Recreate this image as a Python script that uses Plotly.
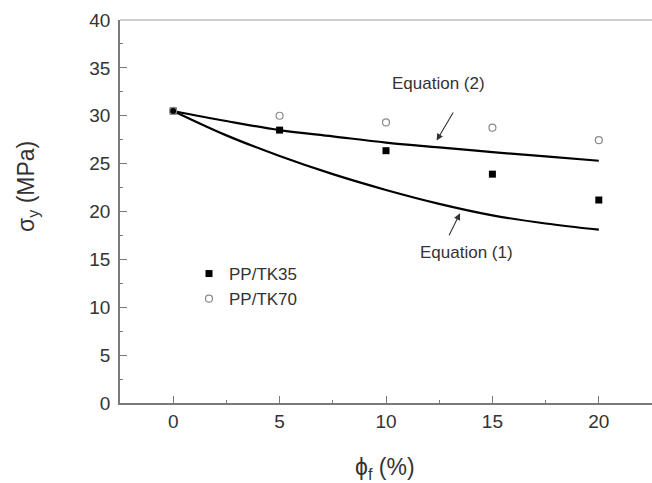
import plotly.graph_objects as go

# ---- data ----
phi = [0, 5, 10, 15, 20]
tk35 = [30.5, 28.5, 26.35, 23.9, 21.2]
tk70 = [30.5, 30.0, 29.3, 28.75, 27.45]

phi_curve = [0, 2.5, 5, 7.5, 10, 12.5, 15, 17.5, 20]
eq1 = [30.5, 27.95, 25.8, 23.9, 22.25, 20.8, 19.6, 18.75, 18.1]
eq2 = [30.5, 29.45, 28.5, 27.85, 27.2, 26.7, 26.2, 25.75, 25.3]

x_ticks = [0, 5, 10, 15, 20]
y_ticks = [0, 5, 10, 15, 20, 25, 30, 35, 40]

FONT = "Liberation Sans, Arial, sans-serif"
TXT = "#333333"
AX = "#7a7a7a"

fig = go.Figure()

fig.add_trace(go.Scatter(x=phi_curve, y=eq1, mode="lines", line=dict(color="black", width=2.2, shape="spline"),
                         showlegend=False, hoverinfo="skip"))
fig.add_trace(go.Scatter(x=phi_curve, y=eq2, mode="lines", line=dict(color="black", width=2.2, shape="spline"),
                         showlegend=False, hoverinfo="skip"))
fig.add_trace(go.Scatter(x=phi, y=tk35, mode="markers", name="PP/TK35",
                         marker=dict(symbol="square", size=7, color="black")))
fig.add_trace(go.Scatter(x=phi, y=tk70, mode="markers", name="PP/TK70",
                         marker=dict(symbol="circle-open", size=7, color="#8a8a8a", line=dict(width=1.2))))

fig.update_xaxes(range=[-2.5, 22.5], tickvals=x_ticks, ticks="inside", ticklen=7, tickwidth=1.3, tickcolor=AX,
                 showline=True, linecolor=AX, linewidth=1.5, showgrid=False, zeroline=False,
                 minor=dict(dtick=2.5, tick0=0, ticks="inside", ticklen=3, tickcolor=AX, tickwidth=1.3),
                 tickfont=dict(family=FONT, size=19, color=TXT), ticklabelstandoff=0)
fig.update_yaxes(range=[0, 40], tickvals=y_ticks, ticks="inside", ticklen=7, tickwidth=1.3, tickcolor=AX,
                 showline=True, linecolor=AX, linewidth=1.5, showgrid=False, zeroline=False,
                 minor=dict(dtick=2.5, tick0=0, ticks="inside", ticklen=3.5, tickcolor=AX, tickwidth=1.3),
                 tickfont=dict(family=FONT, size=19, color=TXT), ticklabelstandoff=4)

# top frame line (lighter)
fig.add_shape(type="line", xref="paper", yref="paper", x0=0, x1=1, y0=1, y1=1,
              line=dict(color="#bdbdbd", width=1.5))

annots = [
    dict(text="Equation (2)", x=12.49, y=33.39, xref="x", yref="y", showarrow=False,
         font=dict(family=FONT, size=17, color=TXT)),
    dict(text="Equation (1)", x=13.76, y=15.67, xref="x", yref="y", showarrow=False,
         font=dict(family=FONT, size=17, color=TXT)),
    dict(text="", x=12.38, y=27.42, ax=13.2, ay=30.5, xref="x", yref="y", axref="x", ayref="y",
         showarrow=True, arrowhead=2, arrowsize=1.2, arrowwidth=1.1, arrowcolor="#333333"),
    dict(text="", x=13.48, y=19.81, ax=12.93, ay=17.37, xref="x", yref="y", axref="x", ayref="y",
         showarrow=True, arrowhead=2, arrowsize=1.2, arrowwidth=1.1, arrowcolor="#333333"),
    dict(text="σ<sub>y</sub> (MPa)", x=(28 - 120) / 532, y=(403 - 187) / 383, xref="paper", yref="paper",
         xanchor="center", yanchor="middle",
         showarrow=False, textangle=-90, font=dict(family=FONT, size=23, color=TXT)),
    dict(text="ϕ<sub>f</sub> (%)", x=(385 - 120) / 532, y=(403 - 468) / 383, xref="paper", yref="paper",
         xanchor="center", yanchor="middle",
         showarrow=False, font=dict(family=FONT, size=23, color=TXT)),
]
fig.update_layout(annotations=annots)

fig.update_layout(
    width=652, height=483,
    margin=dict(l=120, r=0, t=20, b=80),
    plot_bgcolor="white", paper_bgcolor="white",
    showlegend=True,
    legend=dict(x=(189 - 120) / 532, y=(403 - 256) / 383, xanchor="left", yanchor="top",
                bgcolor="rgba(0,0,0,0)", font=dict(family=FONT, size=17, color=TXT),
                itemwidth=30, tracegroupgap=0),
)

fig.write_html("out.html")
